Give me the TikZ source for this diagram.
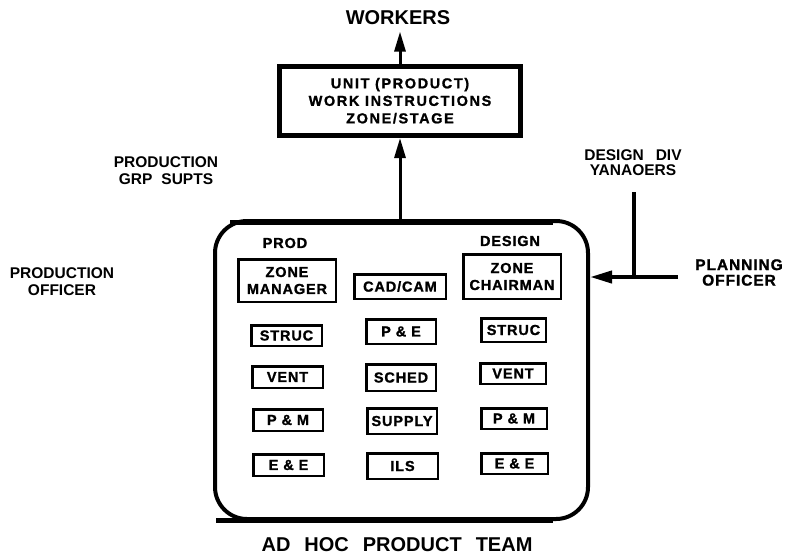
\documentclass[tikz,border=0pt]{standalone}
\usepackage{fontspec}
\setmainfont{Liberation Sans}
\newfontfamily\typed{Liberation Sans}[LetterSpace=6, FakeBold=1.2]
\usetikzlibrary{arrows.meta}
\tikzset{
  lab/.style={font=\bfseries\fontsize{15.5}{17}\selectfont, align=center, inner sep=0pt, outer sep=0pt},
  big/.style={font=\bfseries\fontsize{20}{24}\selectfont, inner sep=0pt, outer sep=0pt},
  head/.style={font=\typed\bfseries\fontsize{14.5}{16}\selectfont, inner sep=0pt, outer sep=0pt},
  cell/.style={draw, line width=2.5pt, inner sep=0pt, align=center,
    font=\typed\bfseries\fontsize{14.5}{17}\selectfont},
  sz/.style 2 args={minimum width=#1, minimum height=#2},
  arr/.style={-{Triangle[length=20pt,width=11pt]}},
}
\begin{document}
\begin{tikzpicture}[x=1pt,y=-1pt]
\useasboundingbox[fill=white] (0,0) rectangle (786,555);

% top box
\node[draw, line width=5pt, sz={241pt}{69.5pt}, inner sep=0pt, align=center,
  font=\typed\bfseries\fontsize{14.5}{17.5}\selectfont\addfontfeature{LetterSpace=11}] (unit) at (400,100.75)
  {UNIT (PRODUCT)\\WORK INSTRUCTIONS\\ZONE/STAGE};
\node[big] (workers) at (398,17.5) {WORKERS};

% team box
\node[draw, line width=4pt, rounded corners=32pt, sz={373pt}{298pt}, inner sep=0pt] (team) at (401.5,370) {};
\draw[line width=5pt] (230,222.5) -- (553,222.5);
\draw[line width=5pt] (216,520.5) -- (553,520.5);

% labels
\node[lab] (grp) at (166,171) {PRODUCTION\\{\spaceskip=9pt GRP SUPTS}};
\node[lab] (poff) at (62,281.5) {PRODUCTION\\OFFICER};
\node[lab, font=\bfseries\fontsize{15.5}{15}\selectfont] (ddiv) at (633,163) {{\spaceskip=12pt DESIGN DIV}\\YANAOERS};
\node[lab, font=\typed\bfseries\fontsize{15.5}{15.5}\selectfont] (plan) at (739,272.5) {PLANNING\\OFFICER};
\node[big] (team label) at (397,545) {\spaceskip=14pt AD HOC PRODUCT TEAM};

% column heads
\node[head] (prod) at (285,243) {PROD};
\node[head] (design) at (510,241) {DESIGN};

% left column
\node[cell, sz={97.5pt}{42.5pt}] (zm) at (287,280.5) {ZONE\\MANAGER};
\node[cell, sz={70.5pt}{20.5pt}] (ls) at (286.5,335.5) {STRUC};
\node[cell, sz={70.5pt}{21.5pt}] (lv) at (287.5,377) {VENT};
\node[cell, sz={69.5pt}{21.5pt}] (lp) at (288,420) {P \& M};
\node[cell, sz={70.5pt}{21.5pt}] (le) at (288.5,465) {E \& E};

% middle column
\node[cell, sz={91.5pt}{24.5pt}] (cad) at (400,286.5) {CAD/CAM};
\node[cell, sz={69.5pt}{24.5pt}] (pe) at (401,331.5) {P \& E};
\node[cell, sz={69.5pt}{26.5pt}] (sched) at (401,377.5) {SCHED};
\node[cell, sz={69.5pt}{25.5pt}] (supply) at (402,421) {SUPPLY};
\node[cell, sz={70.5pt}{25.5pt}] (ils) at (402.5,466) {ILS};

% right column
\node[cell, sz={97.5pt}{44.5pt}] (zc) at (512,276.5) {ZONE\\CHAIRMAN};
\node[cell, sz={64.5pt}{23.5pt}] (rs) at (513.5,330) {STRUC};
\node[cell, sz={65.5pt}{20.5pt}] (rv) at (513,373.5) {VENT};
\node[cell, sz={65.5pt}{20.5pt}] (rp) at (514,418.5) {P \& M};
\node[cell, sz={66.5pt}{20.5pt}] (re) at (514.5,463.5) {E \& E};

% connectors
\draw[line width=3pt, arr] (team.north -| unit.south) -- (unit.south);
\draw[line width=3pt, arr, shorten >=7pt] (unit.north) -- (unit.north |- workers.south);

\coordinate (dtop) at (634,192);
\coordinate (djoin) at (634,277);
\coordinate (pstart) at (678,277);
\draw[line width=4pt] (dtop) -- (djoin);
\draw[line width=4pt, -{Triangle[length=22pt,width=12pt]}] (pstart) -- (pstart -| team.east);
\end{tikzpicture}
\end{document}
